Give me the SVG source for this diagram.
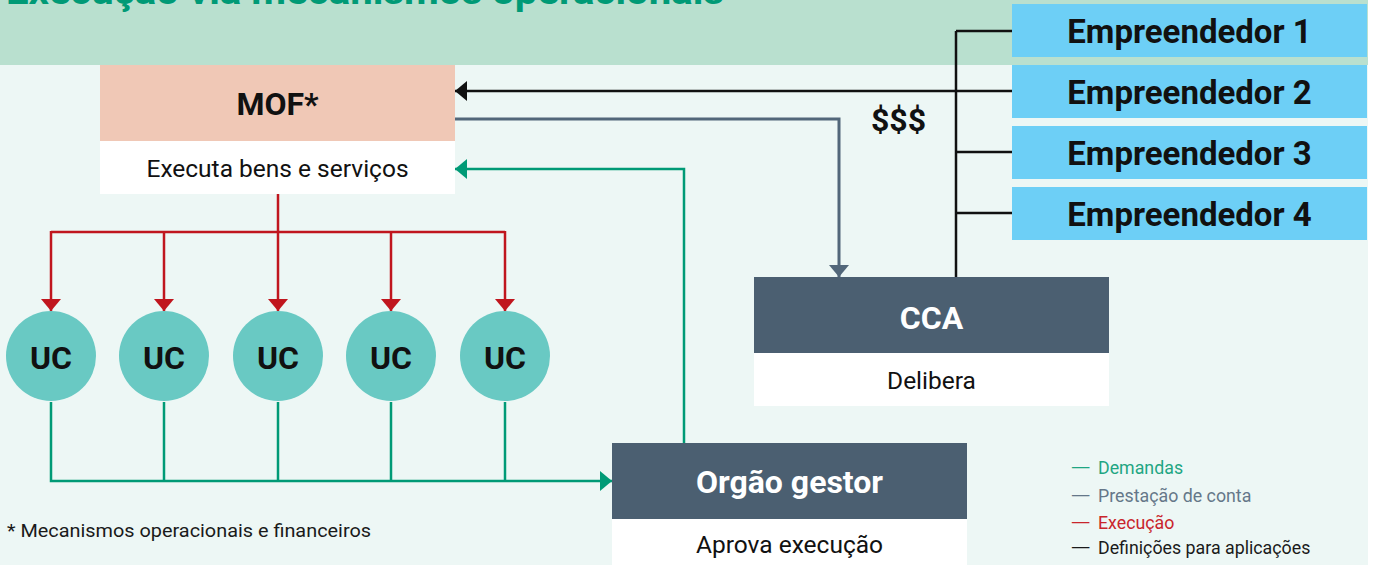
<svg xmlns="http://www.w3.org/2000/svg" width="1375" height="565" viewBox="0 0 1375 565">
<style>
  .bold { font-family: Roboto, "Liberation Sans", sans-serif; font-weight: 700; }
  .reg { font-family: Roboto, "Liberation Sans", sans-serif; font-weight: 400; }
  .big { font-size: 32px; }
  .sub { font-size: 24.5px; fill: #111; }
  .ctr { text-anchor: middle; }
  .emp rect { fill: #6dcff6; }
  .emp text { fill: #111; font-size: 33px; }
  .dark { fill: #4b5f71; }
  .white { fill: #ffffff; }
  .uc circle { fill: #69c9c3; }
  .uc text { fill: #111; }
  .ln { fill: none; stroke-width: 2.5; }
  .blk { stroke: #111; }
  .gry { stroke: #52677a; stroke-width: 3; }
  .grn { stroke: #009a76; }
  .red { stroke: #c0161e; }
  .leg { font-size: 17.8px; }
</style>
<defs>
  <marker id="aBlk" markerUnits="userSpaceOnUse" markerWidth="12" markerHeight="20" refX="12" refY="10" orient="auto"><path d="M0,0 L12,10 L0,20 z" fill="#111"/></marker>
  <marker id="aGry" markerUnits="userSpaceOnUse" markerWidth="12" markerHeight="20" refX="12" refY="10" orient="auto"><path d="M0,0 L12,10 L0,20 z" fill="#52677a"/></marker>
  <marker id="aGrn" markerUnits="userSpaceOnUse" markerWidth="12" markerHeight="20" refX="12" refY="10" orient="auto"><path d="M0,0 L12,10 L0,20 z" fill="#009a76"/></marker>
  <marker id="aRed" markerUnits="userSpaceOnUse" markerWidth="12" markerHeight="20" refX="12" refY="10" orient="auto"><path d="M0,0 L12,10 L0,20 z" fill="#c0161e"/></marker>
</defs>

<!-- background -->
<rect x="0" y="0" width="1375" height="565" fill="#ffffff"/>
<rect x="0" y="0" width="1368" height="565" fill="#edf7f5"/>
<rect x="0" y="0" width="1368" height="65" fill="#b9e0cf"/>
<text class="bold" x="6" y="4" font-size="37" fill="#009a76" textLength="718" lengthAdjust="spacingAndGlyphs">Execução via mecanismos operacionais</text>

<!-- connectors -->
<g id="connectors">
  <path class="ln blk" d="M956,31 V277"/>
  <path class="ln blk" d="M956,31 H1012"/>
  <path class="ln blk" d="M1012,91 H455" marker-end="url(#aBlk)"/>
  <path class="ln blk" d="M956,152 H1012"/>
  <path class="ln blk" d="M956,213 H1012"/>
  <path class="ln gry" d="M455,119 H839 V277" marker-end="url(#aGry)"/>
  <path class="ln grn" d="M684,443 V169 H455" marker-end="url(#aGrn)"/>
  <path class="ln red" d="M51,232 H505"/>
  <path class="ln red" d="M278,194 V311" marker-end="url(#aRed)"/>
  <path class="ln red" d="M51,231 V311" marker-end="url(#aRed)"/>
  <path class="ln red" d="M164,232 V311" marker-end="url(#aRed)"/>
  <path class="ln red" d="M391,232 V311" marker-end="url(#aRed)"/>
  <path class="ln red" d="M505,231 V311" marker-end="url(#aRed)"/>
  <path class="ln grn" d="M51,402 V481 H612" marker-end="url(#aGrn)"/>
  <path class="ln grn" d="M164,402 V481"/>
  <path class="ln grn" d="M278,402 V481"/>
  <path class="ln grn" d="M391,402 V481"/>
  <path class="ln grn" d="M505,402 V481"/>
  <text class="bold big" x="871" y="131" fill="#111">$$$</text>
</g>

<!-- Empreendedores -->
<g id="emp1" class="emp"><rect x="1012" y="4" width="355" height="53"/><text class="bold ctr" x="1189.5" y="43">Empreendedor 1</text></g>
<g id="emp2" class="emp"><rect x="1012" y="65" width="355" height="53"/><text class="bold ctr" x="1189.5" y="104">Empreendedor 2</text></g>
<g id="emp3" class="emp"><rect x="1012" y="126" width="355" height="53"/><text class="bold ctr" x="1189.5" y="165">Empreendedor 3</text></g>
<g id="emp4" class="emp"><rect x="1012" y="187" width="355" height="53"/><text class="bold ctr" x="1189.5" y="226">Empreendedor 4</text></g>

<!-- MOF -->
<g id="mof">
  <rect x="100" y="65" width="355" height="76" fill="#f0c8b6"/>
  <rect class="white" x="100" y="141" width="355" height="53"/>
  <text class="bold big ctr" x="277.5" y="115" fill="#111">MOF*</text>
  <text class="reg sub ctr" x="277.5" y="177">Executa bens e serviços</text>
</g>

<!-- CCA -->
<g id="cca">
  <rect class="dark" x="754" y="277" width="355" height="76"/>
  <rect class="white" x="754" y="353" width="355" height="53"/>
  <text class="bold big ctr" x="931.5" y="329" fill="#ffffff">CCA</text>
  <text class="reg sub ctr" x="931.5" y="389">Delibera</text>
</g>

<!-- Orgao gestor -->
<g id="orgao">
  <rect class="dark" x="612" y="443" width="355" height="76"/>
  <rect class="white" x="612" y="519" width="355" height="46"/>
  <text class="bold big ctr" x="789.5" y="493" fill="#ffffff">Orgão gestor</text>
  <text class="reg sub ctr" x="789.5" y="553">Aprova execução</text>
</g>

<!-- UCs -->
<g id="uc1" class="uc"><circle cx="51" cy="356" r="45"/><text class="bold big ctr" x="51" y="369">UC</text></g>
<g id="uc2" class="uc"><circle cx="164" cy="356" r="45"/><text class="bold big ctr" x="164" y="369">UC</text></g>
<g id="uc3" class="uc"><circle cx="278" cy="356" r="45"/><text class="bold big ctr" x="278" y="369">UC</text></g>
<g id="uc4" class="uc"><circle cx="391" cy="356" r="45"/><text class="bold big ctr" x="391" y="369">UC</text></g>
<g id="uc5" class="uc"><circle cx="505" cy="356" r="45"/><text class="bold big ctr" x="505" y="369">UC</text></g>

<!-- footnote -->
<text class="reg" x="7" y="537" font-size="18" fill="#1a1a1a" textLength="364" lengthAdjust="spacingAndGlyphs">* Mecanismos operacionais e financeiros</text>

<!-- legend -->
<g id="legend" class="reg leg">
  <text y="474" fill="#1fa683"><tspan x="1070" textLength="21" lengthAdjust="spacingAndGlyphs">—</tspan><tspan x="1098">Demandas</tspan></text>
  <text y="501.5" fill="#657789"><tspan x="1070" textLength="21" lengthAdjust="spacingAndGlyphs">—</tspan><tspan x="1098">Prestação de conta</tspan></text>
  <text y="529" fill="#c9252c"><tspan x="1070" textLength="21" lengthAdjust="spacingAndGlyphs">—</tspan><tspan x="1098">Execução</tspan></text>
  <text y="553.5" fill="#1a1a1a"><tspan x="1070" textLength="21" lengthAdjust="spacingAndGlyphs">—</tspan><tspan x="1098">Definições para aplicações</tspan></text>
</g>
</svg>
